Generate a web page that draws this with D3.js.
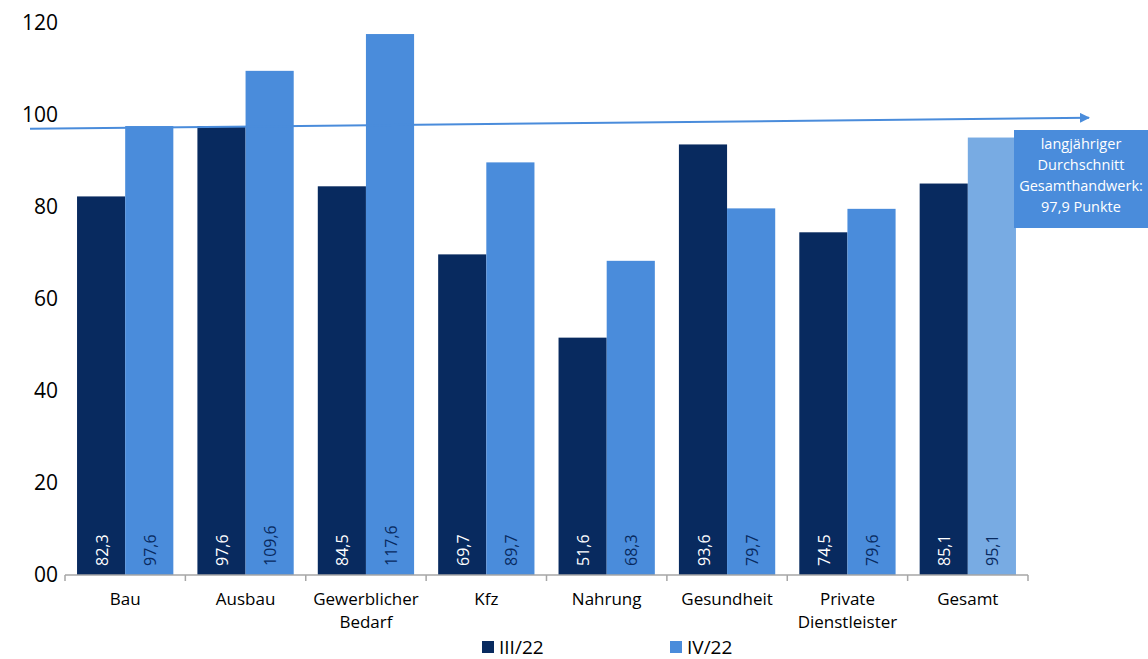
<!DOCTYPE html>
<html>
<head>
<meta charset="utf-8">
<script src="https://cdn.jsdelivr.net/npm/d3@7"></script>
<style>
  body { margin: 0; background: #fff; }
  svg { font-family: "Open Sans", "Noto Sans", sans-serif; }
</style>
</head>
<body>
<svg id="chart"></svg>
<script>
// Categories and series values
const categories = ["Bau", "Ausbau", "Gewerblicher Bedarf", "Kfz", "Nahrung", "Gesundheit", "Private Dienstleister", "Gesamt"];
const categoryLines = [["Bau"], ["Ausbau"], ["Gewerblicher", "Bedarf"], ["Kfz"], ["Nahrung"], ["Gesundheit"], ["Private", "Dienstleister"], ["Gesamt"]];
const seriesNames = ["III/22", "IV/22"];
const valuesQ3 = [82.3, 97.6, 84.5, 69.7, 51.6, 93.6, 74.5, 85.1];
const valuesQ4 = [97.6, 109.6, 117.6, 89.7, 68.3, 79.7, 79.6, 95.1];
const yTicks = [0, 20, 40, 60, 80, 100, 120];
const avgLine = [97.0, 99.4]; // drawn trend arrow, start/end values
const avgText = ["langjähriger", "Durchschnitt", "Gesamthandwerk:", "97,9 Punkte"];

const colors = { dark: "#082a5f", light: "#4a8cdb", lighter: "#78abe3", axis: "#a6a6a6" };

const width = 1148, height = 659;
const margin = { top: 23, right: 120, bottom: 84, left: 65 };

const svg = d3.select("#chart").attr("width", width).attr("height", height);

const x0 = d3.scaleBand().domain(categories).range([margin.left, 1028]).padding(0);
const x1 = d3.scaleBand().domain(seriesNames).range([x0.bandwidth() * 0.1, x0.bandwidth() * 0.9]).padding(0);
const y = d3.scaleLinear().domain([0, 120]).range([height - margin.bottom, margin.top]);

// y tick labels (no axis line)
svg.append("g").selectAll("text")
  .data(yTicks)
  .join("text")
  .attr("x", 58)
  .attr("y", d => y(d))
  .attr("dy", "0.35em")
  .attr("text-anchor", "end")
  .attr("font-size", 21)
  .attr("fill", "#000")
  .text(d => d === 0 ? "00" : d);

// data rows
const rows = categories.map((c, i) => ({ cat: c, i, vals: [valuesQ3[i], valuesQ4[i]] }));

const groups = svg.append("g").selectAll("g")
  .data(rows)
  .join("g")
  .attr("transform", d => `translate(${x0(d.cat)},0)`);

const bars = groups.selectAll("g")
  .data(d => d.vals.map((v, k) => ({ s: seriesNames[k], k, v, last: d.i === categories.length - 1 })))
  .join("g");

bars.append("rect")
  .attr("x", d => x1(d.s))
  .attr("y", d => y(d.v))
  .attr("width", x1.bandwidth())
  .attr("height", d => y(0) - y(d.v))
  .attr("fill", d => d.k === 0 ? colors.dark : (d.last ? colors.lighter : colors.light));

bars.append("text")
  .attr("transform", d => `translate(${x1(d.s) + x1.bandwidth() / 2 + 1},${y(0) - 9}) rotate(-90)`)
  .attr("dy", "0.35em")
  .attr("font-size", 16)
  .attr("fill", d => d.k === 0 ? "#fff" : colors.dark)
  .text(d => d3.format(".1f")(d.v).replace(".", ","));

// x axis
const axis = svg.append("g").attr("transform", `translate(0,${y(0)})`);
axis.append("line")
  .attr("x1", x0.range()[0]).attr("x2", x0.range()[1])
  .attr("stroke", colors.axis).attr("stroke-width", 1.5);
const tickPos = categories.map(c => x0(c)).concat([x0.range()[1]]);
axis.selectAll("line.tick")
  .data(tickPos)
  .join("line")
  .attr("class", "tick")
  .attr("x1", d => d).attr("x2", d => d)
  .attr("y1", 0).attr("y2", 6)
  .attr("stroke", colors.axis).attr("stroke-width", 1.5);

axis.selectAll("text.cat")
  .data(rows)
  .join("text")
  .attr("class", "cat")
  .attr("x", d => x0(d.cat) + x0.bandwidth() / 2)
  .attr("y", 30)
  .attr("text-anchor", "middle")
  .attr("font-size", 17)
  .attr("fill", "#000")
  .selectAll("tspan")
  .data(d => categoryLines[d.i])
  .join("tspan")
  .attr("x", function () { return d3.select(this.parentNode).attr("x"); })
  .attr("dy", (d, j) => j === 0 ? 0 : 23)
  .text(d => d);

// average arrow
svg.append("defs").append("marker")
  .attr("id", "arrow")
  .attr("viewBox", "0 0 10 10")
  .attr("refX", 9).attr("refY", 5)
  .attr("markerWidth", 5).attr("markerHeight", 5)
  .attr("orient", "auto")
  .append("path")
  .attr("d", "M0,0 L10,5 L0,10 z")
  .attr("fill", colors.light);

svg.append("line")
  .attr("x1", 30).attr("y1", y(avgLine[0]))
  .attr("x2", 1089).attr("y2", y(avgLine[1]))
  .attr("stroke", colors.light)
  .attr("stroke-width", 2)
  .attr("marker-end", "url(#arrow)");

// annotation box
const box = svg.append("g").attr("transform", "translate(1014,130)");
box.append("rect").attr("width", 134).attr("height", 98).attr("fill", colors.light);
box.selectAll("text")
  .data(avgText)
  .join("text")
  .attr("x", 67)
  .attr("y", (d, i) => 19 + i * 21)
  .attr("text-anchor", "middle")
  .attr("font-size", 14.5)
  .attr("fill", "#fff")
  .text(d => d);

// legend
const legend = svg.append("g").attr("transform", `translate(0,647)`);
const legendX = [482, 670];
seriesNames.forEach((s, k) => {
  legend.append("rect")
    .attr("x", legendX[k]).attr("y", -6)
    .attr("width", 12).attr("height", 12)
    .attr("fill", k === 0 ? colors.dark : colors.light);
  legend.append("text")
    .attr("x", legendX[k] + 17).attr("y", 0)
    .attr("dy", "0.35em")
    .attr("font-size", 19)
    .attr("fill", "#000")
    .text(s);
});
</script>
</body>
</html>
